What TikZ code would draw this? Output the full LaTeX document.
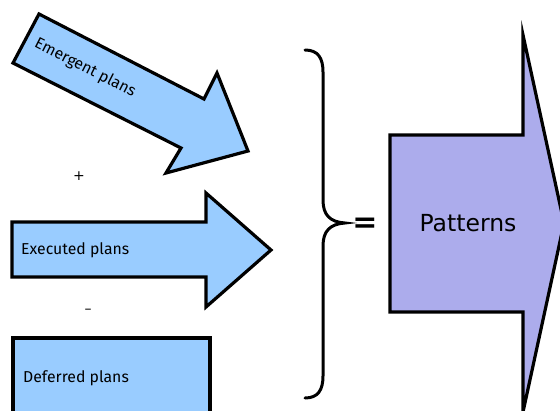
\documentclass[tikz,border=0pt]{standalone}
\usepackage{fontspec}
\setmainfont{Fira Sans}
\newfontfamily\patfont{DejaVu Sans}
\definecolor{planblue}{RGB}{153,204,255}
\definecolor{patpurple}{RGB}{172,172,236}
\begin{document}
\begin{tikzpicture}[x=1pt,y=-1pt,
  outline/.style={draw=black,line width=3.2pt,line join=miter,miter limit=10},
  label/.style={font=\fontsize{15.8}{18}\selectfont,inner sep=0pt},
  sign/.style={font=\patfont\fontsize{14}{16}\selectfont,inner sep=0pt}]
  \useasboundingbox (0,0) rectangle (560,410);
  \clip (0,0) rectangle (560,410);
  % emergent plans: slanted arrow
  \draw[outline,fill=planblue] (39,14) -- (204,99) -- (217,73) -- (248,151)
    -- (166,173) -- (181,148) -- (13,63) -- cycle;
  \node[label,rotate=-27] (emergent) at (85,68) {Emergent plans};
  \node[sign] (plus) at (79,176) {+};
  % executed plans: horizontal arrow
  \draw[outline,fill=planblue] (12,222) -- (206,222) -- (206,193) -- (271,250)
    -- (206,307) -- (206,277) -- (12,277) -- cycle;
  \node[label,anchor=west] (executed) at (21,250) {Executed plans};
  \node[sign] (minus) at (88,311) {–};
  % deferred plans: plain box
  \draw[outline,fill=planblue] (13,338) rectangle (210,425);
  \node[label,anchor=west] (deferred) at (23,378) {Deferred plans};
  % brace gathering the three plan kinds
  \draw[line width=3pt,line cap=round] (305,50) .. controls (318,50) and (323,58) .. (323,72)
    -- (323,200) .. controls (323,215) and (330,222) .. (345,223)
    .. controls (330,224) and (323,231) .. (323,246)
    -- (323,376) .. controls (323,390) and (318,398) .. (305,398);
  \node[font=\patfont\bfseries\fontsize{30}{32}\selectfont,inner sep=0pt] (eq) at (365,225) {=};
  % resulting patterns arrow
  \draw[outline,fill=patpurple] (390,135) -- (523,135) -- (523,35) -- (564,223)
    -- (523,412) -- (523,312) -- (390,312) -- cycle;
  \node[font=\patfont\fontsize{23.5}{26}\selectfont,inner sep=0pt] (patterns) at (468,223) {Patterns};
\end{tikzpicture}
\end{document}
